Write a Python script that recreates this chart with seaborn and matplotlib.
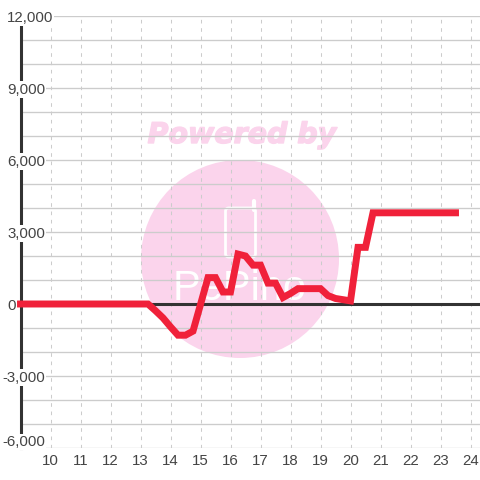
import matplotlib
matplotlib.use("Agg")
import matplotlib.pyplot as plt
import matplotlib.patheffects as pe
from matplotlib.patches import Circle, FancyBboxPatch
import pandas as pd
import seaborn as sns

hours = [9, 9.25, 9.5, 9.75, 10, 10.25, 10.5, 10.75, 11, 11.25, 11.5, 11.75,
         12, 12.25, 12.5, 12.75, 13, 13.25, 13.5, 13.75, 14, 14.25, 14.5, 14.75,
         15, 15.25, 15.5, 15.75, 16, 16.25, 16.5, 16.75, 17, 17.25, 17.5, 17.75,
         18, 18.25, 18.5, 18.75, 19, 19.25, 19.5, 19.75, 20, 20.25, 20.5, 20.75,
         21, 21.25, 21.5, 21.75, 22, 22.25, 22.5, 22.75, 23, 23.25, 23.5]
values = [0, 0, 0, 0, 0, 0, 0, 0, 0, 0, 0, 0,
          0, 0, 0, 0, 0, 0, -280, -580, -950, -1300, -1300, -1130,
          -20, 1100, 1100, 500, 500, 2080, 2000, 1620, 1620, 870, 870, 270,
          440, 640, 640, 640, 640, 350, 230, 180, 130, 2360, 2360, 3800,
          3800, 3800, 3800, 3800, 3800, 3800, 3800, 3800, 3800, 3800, 3800]
x_ticks = list(range(10, 25))
y_labels = {12000: "12,000", 9000: "9,000", 6000: "6,000", 3000: "3,000",
            0: "0", -3000: "-3,000", -6000: "-6,000"}
y_grid = list(range(-6000, 13000, 1000))

sns.set_theme(style="white")
plt.rcParams["font.family"] = ["Liberation Sans", "DejaVu Sans"]

GRID = "#cccccc"
INK = "#444444"
PINK = "#fbd4ec"

fig = plt.figure(figsize=(4.8, 4.8), dpi=100, facecolor="white")


def fx(px):
    return px / 480


def fy(px):
    return 1 - px / 480


# watermark sits on the figure, under the transparent axes
fig.add_artist(Circle((fx(240), fy(259)), 99 / 480, transform=fig.transFigure,
                      facecolor=PINK, edgecolor="none", zorder=-3))
fig.add_artist(FancyBboxPatch((fx(225.5), fy(257)), 30 / 480, 49 / 480,
                              boxstyle="round,pad=0,rounding_size=0.007",
                              transform=fig.transFigure, facecolor="none",
                              edgecolor="white", linewidth=2, zorder=-2))
fig.add_artist(plt.Line2D([fx(254), fx(254)], [fy(210), fy(201)], color="white",
                          linewidth=3, solid_capstyle="round", zorder=-2))
fig.text(fx(242), fy(135), "Powered by", color=PINK, fontsize=20.5, fontweight="bold",
         fontstyle="italic", ha="center", va="center", family="DejaVu Sans", zorder=-2,
         path_effects=[pe.withStroke(linewidth=1, foreground=PINK)])
fig.text(fx(240), fy(289), "PePino", color="white", fontsize=30, ha="center",
         va="center", family="Liberation Sans", zorder=-2)

ax = fig.add_axes([fx(20.5), fy(448), (480 - 20.5) / 480, 432 / 480])
ax.patch.set_alpha(0)

df = pd.DataFrame({"hour": hours, "value": values})
ax.axhline(0, color="#333333", linewidth=2.2, zorder=3)
sns.lineplot(data=df, x="hour", y="value", ax=ax, color="#f0213a", linewidth=5,
             estimator=None, sort=False, zorder=4, clip_on=False,
             solid_joinstyle="miter", solid_capstyle="projecting")

ax.set_xlim(9, 9 + (480 - 20.5) / 30)
ax.set_ylim(-6000, 12000)
ax.set_xlabel("")
ax.set_ylabel("")
ax.set_xticks(x_ticks)
ax.set_yticks(y_grid)
ax.set_yticklabels([])
ax.tick_params(axis="both", length=0)
ax.tick_params(axis="x", labelsize=10.8, labelcolor=INK, pad=4)
ax.grid(axis="y", color=GRID, linewidth=0.95, zorder=1)
ax.grid(axis="x", color=GRID, linewidth=0.75, linestyle=(0, (3.5, 4.5)), zorder=1)
ax.set_axisbelow(True)

for side in ["top", "right", "bottom"]:
    ax.spines[side].set_visible(False)
ax.spines["left"].set_color("#333333")
ax.spines["left"].set_linewidth(2.2)
ax.spines["left"].set_zorder(2)

# y labels sit on the axis line with a white box behind them
for val, label in y_labels.items():
    left = 2 if val < 0 else 7
    ypx = 304 - val * 72 / 3000
    if val == -6000:
        ypx = 440.5
    ax.text(fx(left), fy(ypx + 1.5), label, transform=fig.transFigure, ha="left",
            va="center", fontsize=10.8, color=INK, zorder=5, clip_on=False,
            bbox=dict(facecolor="white", edgecolor="none", pad=0.8))

fig.savefig("out.png", dpi=100)
